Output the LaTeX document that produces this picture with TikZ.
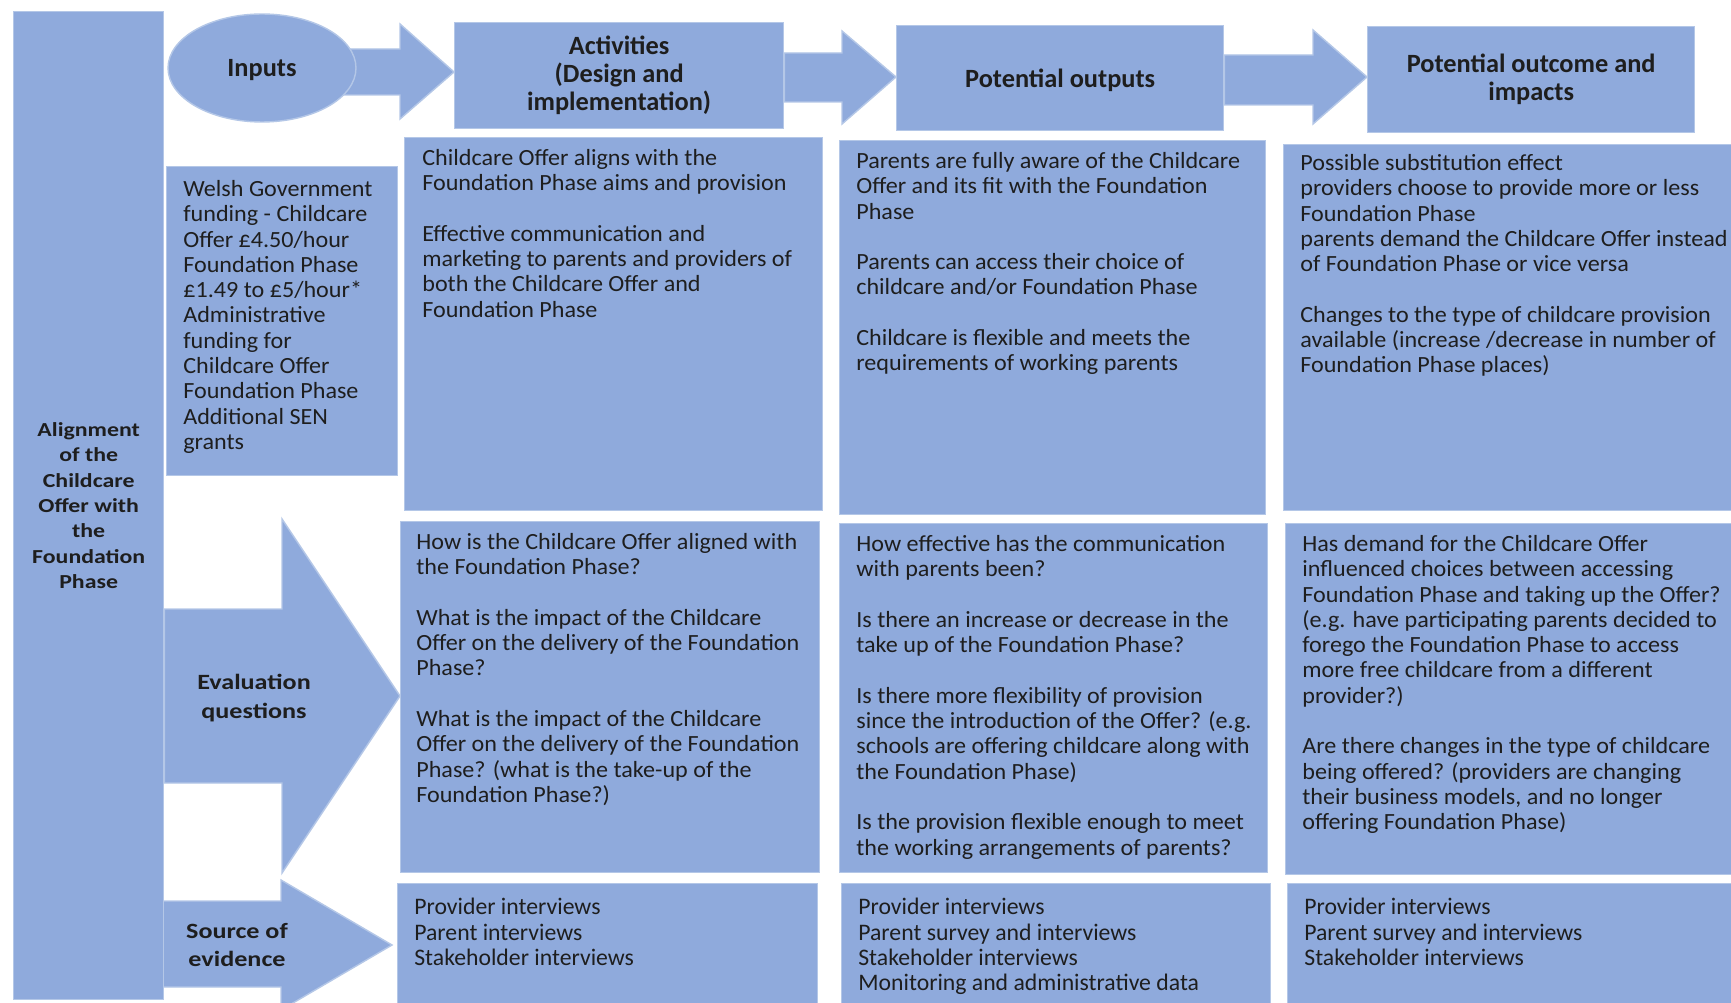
\documentclass[tikz,border=0pt]{standalone}
\usepackage{fontspec}
\setmainfont{Carlito}
\newfontfamily\bodyfont[FakeStretch=1.04]{Carlito}
\newfontfamily\widefont[FakeStretch=1.2]{Carlito}
\usetikzlibrary{shapes.geometric,backgrounds}
\definecolor{boxblue}{HTML}{8FAADC}
\definecolor{edgeblue}{HTML}{B4C7E7}
\definecolor{inkgrey}{HTML}{1E1E1E}

\begin{document}
\begin{tikzpicture}[x=0.02cm, y=-0.02cm]

\tikzstyle{panel} = [rectangle, anchor=north west, inner sep=0pt, draw=edgeblue, line width=0.8pt, fill=boxblue, text=inkgrey]
\tikzstyle{hdr} = [panel, align=center, font=\bfseries\fontsize{15}{16}\selectfont]
\tikzstyle{body} = [anchor=north west, inner sep=0pt, align=left, text=inkgrey, font=\bodyfont\fontsize{13.2}{14.4}\selectfont]
\tikzstyle{srclist} = [body, font=\fontsize{13.5}{14.4}\selectfont]
\tikzstyle{sidelabel} = [align=center, text=inkgrey, font=\widefont\bfseries\fontsize{12.4}{16.3}\selectfont]
\tikzstyle{blk} = [fill=boxblue, draw=edgeblue, line width=0.8pt]

\useasboundingbox (0,0) rectangle (1731,1003);
\clip (0,0) rectangle (1731,1003);

% Define nodes
\node (bar) [panel, align=center, minimum width=3cm, minimum height=19.76cm, font=\widefont\bfseries\fontsize{11.3}{14.4}\selectfont] at (13,11) {Alignment\\of the\\Childcare\\Offer with\\the\\Foundation\\Phase};
\node (inputs) [ellipse, inner sep=0pt, text depth=0pt, minimum width=3.76cm, minimum height=2.16cm, draw=edgeblue, line width=0.8pt, fill=boxblue, text=inkgrey, font=\bfseries\fontsize{15}{16}\selectfont] at (262,68) {Inputs};
\node (hdract) [hdr, minimum width=6.58cm, minimum height=2.12cm] at (454,22) {Activities\\(Design and\\implementation)};
\node (hdrout) [hdr, minimum width=6.54cm, minimum height=2.1cm, text depth=0pt] at (896,25) {Potential outputs};
\node (hdrimp) [hdr, minimum width=6.54cm, minimum height=2.12cm] at (1367,26) {Potential outcome and\\impacts};

\node (funding) [panel, minimum width=4.62cm, minimum height=6.18cm] at (166,166) {};
\node (act) [panel, minimum width=8.36cm, minimum height=7.46cm] at (404,137) {};
\node (out) [panel, minimum width=8.52cm, minimum height=7.48cm] at (839,140) {};
\node (imp) [panel, minimum width=9.24cm, minimum height=7.32cm] at (1283,144) {};

\node (actq) [panel, minimum width=8.38cm, minimum height=7.02cm] at (400,521) {};
\node (outq) [panel, minimum width=8.56cm, minimum height=6.98cm] at (839,523) {};
\node (impq) [panel, minimum width=9.2cm, minimum height=7.02cm] at (1285,523) {};

\node (acts) [panel, minimum width=8.4cm, minimum height=2.54cm] at (397,883) {};
\node (outs) [panel, minimum width=8.58cm, minimum height=2.54cm] at (841,883) {};
\node (imps) [panel, minimum width=9.16cm, minimum height=2.54cm] at (1287,883) {};

% Texts
\node (fundingtxt) [body] at ([shift={(17,14)}]funding.north west) {Welsh Government\\funding - Childcare\\Offer £4.50/hour\\Foundation Phase\\£1.49 to £5/hour*\\Administrative\\funding for\\Childcare Offer\\Foundation Phase\\Additional SEN\\grants};
\node (acttxt) [body] at ([shift={(18,12)}]act.north west) {Childcare Offer aligns with the\\Foundation Phase aims and provision\\[14.4pt]Effective communication and\\marketing to parents and providers of\\both the Childcare Offer and\\Foundation Phase};
\node (outtxt) [body] at ([shift={(17,12)}]out.north west) {Parents are fully aware of the Childcare\\Offer and its fit with the Foundation\\Phase\\[14.4pt]Parents can access their choice of\\childcare and/or Foundation Phase\\[14.4pt]Childcare is flexible and meets the\\requirements of working parents};
\node (imptxt) [body] at ([shift={(17,10)}]imp.north west) {Possible substitution effect\\providers choose to provide more or less\\Foundation Phase\\parents demand the Childcare Offer instead\\of Foundation Phase or vice versa\\[14.4pt]Changes to the type of childcare provision\\available (increase /decrease in number of\\Foundation Phase places)};

\node (actqtxt) [body] at ([shift={(16,12)}]actq.north west) {How is the Childcare Offer aligned with\\the Foundation Phase?\\[14.4pt]What is the impact of the Childcare\\Offer on the delivery of the Foundation\\Phase?\\[14.4pt]What is the impact of the Childcare\\Offer on the delivery of the Foundation\\Phase? (what is the take-up of the\\Foundation Phase?)};
\node (outqtxt) [body] at ([shift={(17,12)}]outq.north west) {How effective has the communication\\with parents been?\\[14.4pt]Is there an increase or decrease in the\\take up of the Foundation Phase?\\[14.4pt]Is there more flexibility of provision\\since the introduction of the Offer? (e.g.\\schools are offering childcare along with\\the Foundation Phase)\\[14.4pt]Is the provision flexible enough to meet\\the working arrangements of parents?};
\node (impqtxt) [body] at ([shift={(17,12)}]impq.north west) {Has demand for the Childcare Offer\\influenced choices between accessing\\Foundation Phase and taking up the Offer?\\(e.g. have participating parents decided to\\forego the Foundation Phase to access\\more free childcare from a different\\provider?)\\[14.4pt]Are there changes in the type of childcare\\being offered? (providers are changing\\their business models, and no longer\\offering Foundation Phase)};

\node (actstxt) [srclist] at ([shift={(17,15)}]acts.north west) {Provider interviews\\Parent interviews\\Stakeholder interviews};
\node (outstxt) [srclist] at ([shift={(17,15)}]outs.north west) {Provider interviews\\Parent survey and interviews\\Stakeholder interviews\\Monitoring and administrative data};
\node (impstxt) [srclist] at ([shift={(17,15)}]imps.north west) {Provider interviews\\Parent survey and interviews\\Stakeholder interviews};

\node (evalq) [sidelabel] at (254,698) {Evaluation\\questions};
\node (source) [sidelabel] at (237,945) {Source of\\evidence};

% Draw arrows
\begin{pgfonlayer}{background}
\fill[white] (0,0) rectangle (1731,1003);
\draw[blk] (inputs.center |- 0,49) -- (400,49) -- (400,24) -- (hdract.west |- 0,72) -- (400,119) -- (400,95) -- (inputs.center |- 0,95) -- cycle;
\draw[blk] (hdract.east |- 0,53) -- (842,53) -- (842,31) -- (hdrout.west |- 0,77) -- (842,124) -- (842,102) -- (hdract.east |- 0,102) -- cycle;
\draw[blk] (hdrout.east |- 0,55) -- (1313,55) -- (1313,30) -- (hdrimp.west |- 0,77) -- (1313,124) -- (1313,105) -- (hdrout.east |- 0,105) -- cycle;
\draw[blk] (bar.east |- 0,609) -- (282,609) -- (282,519) -- (actq.west |- 0,696) -- (282,873) -- (282,783) -- (bar.east |- 0,783) -- cycle;
\draw[blk] (159,901) -- (281,901) -- (281,880) -- (392,945) -- (281,1010) -- (281,987) -- (159,987) -- cycle;
\end{pgfonlayer}

\end{tikzpicture}
\end{document}
